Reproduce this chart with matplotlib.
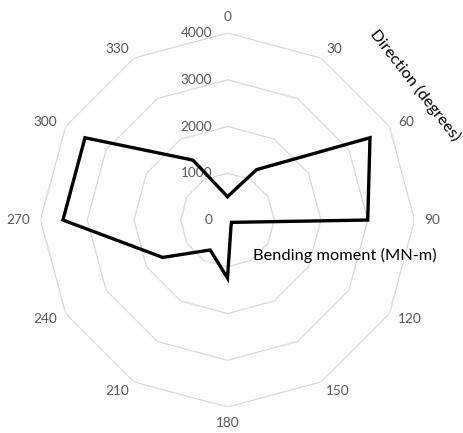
import numpy as np
from matplotlib import pyplot as plt

# directions (degrees) and bending moment (MN-m)
directions = [0, 30, 60, 90, 120, 150, 180, 210, 240, 270, 300, 330]
moment = [500, 1245, 3520, 3000, 100, 150, 1240, 740, 1600, 3520, 3520, 1480]
ring_values = [0, 1000, 2000, 3000, 4000]

grey = '#595959'
plt.rcParams['font.family'] = ['Lato', 'DejaVu Sans']

fig = plt.figure(figsize=(4.64, 4.33), dpi=100)
ax = fig.add_axes([0.0873, 0.060, 0.806, 0.8637], projection='polar')
ax.set_theta_zero_location('N')
ax.set_theta_direction(-1)
ax.set_ylim(0, 4000)
ax.grid(False)
ax.spines['polar'].set_visible(False)
ax.set_xticks([])
ax.set_yticks([])
ax.patch.set_alpha(0)

theta = np.deg2rad(directions + [directions[0]])

# polygon gridlines
for v in ring_values[1:]:
    ax.plot(theta, [v] * len(theta), color='#d9d9d9', lw=0.9, zorder=1)

# data
ax.plot(theta, moment + [moment[0]], color='black', lw=2.4, zorder=3,
        solid_joinstyle='miter')

# direction labels, placed just outside the outer ring
gap = 7.2
for d in directions:
    s, c = np.sin(np.deg2rad(d)), np.cos(np.deg2rad(d))
    ha = 'left' if s > 0.1 else ('right' if s < -0.1 else 'center')
    va = 'bottom' if c > 0.9 else ('top' if c < -0.9 else 'center')
    ax.annotate(str(d), xy=(np.deg2rad(d), ring_values[-1]),
                xytext=(gap * s, gap * c), textcoords='offset points',
                ha=ha, va=va, fontsize=9.8, color=grey, annotation_clip=False)

# value labels
for v in ring_values:
    ax.annotate(str(v), xy=(0, v), xytext=(-11, 0), textcoords='offset points',
                ha='right', va='center', fontsize=9.8, color=grey,
                annotation_clip=False, zorder=2)

fig.text(0.545, 0.41, 'Bending moment (MN-m)', fontsize=11.8, color='black',
         ha='left', va='center')
fig.text(0.894, 0.804, 'Direction (degrees)', fontsize=11.8, color='black',
         ha='center', va='center', rotation=-52, rotation_mode='anchor')

fig.savefig('out.png', dpi=100)
